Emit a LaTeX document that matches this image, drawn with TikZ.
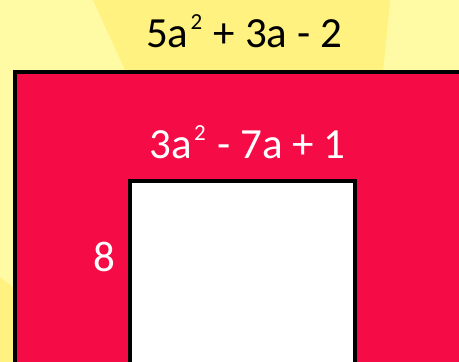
\documentclass[tikz,border=0pt]{standalone}
\usepackage{fontspec}
\setmainfont{Carlito}
\usetikzlibrary{math}
\definecolor{sunlight}{RGB}{255,251,164}
\definecolor{sunray}{RGB}{255,242,128}
\definecolor{polyred}{RGB}{245,12,71}
\newcommand{\sqr}{\hspace{2pt}\raisebox{18pt}{\fontsize{23}{25}\selectfont 2}\hspace{2pt}}

\begin{document}
\begin{tikzpicture}[x=1pt,y=-1pt]
\tikzmath{
\cx=337;
\cy=533;
\L=1000;
}
\tikzset{polytext/.style={font=\fontsize{43}{50}\selectfont, anchor=base, inner sep=0}}
\useasboundingbox (0,0) rectangle (459,362);
\clip (0,0) rectangle (459,362);

%background rays:
 \fill[sunlight] (0,0) rectangle (459,362);
 \foreach \a/\b in {84.3/114.6, 142.8/172.8}{
  \fill[sunray] (\cx,\cy) -- +({\L*cos(\a)},{-\L*sin(\a)}) -- +({\L*cos(\b)},{-\L*sin(\b)}) -- cycle;
 }
%outer rectangle
 \draw[line width=4, fill=polyred] (15,72) rectangle (480,400);
%hole
 \draw[line width=4, fill=white] (130,181) rectangle (354.5,400);

 \node[polytext] (outer) at (244,47) {5a\sqr{} + 3a - 2};
 \node[polytext, white] (inner) at (247.5,158) {3a\sqr{} - 7a + 1};
 \node[polytext, white] (side) at (104,271) {8};
\end{tikzpicture}
\end{document}
